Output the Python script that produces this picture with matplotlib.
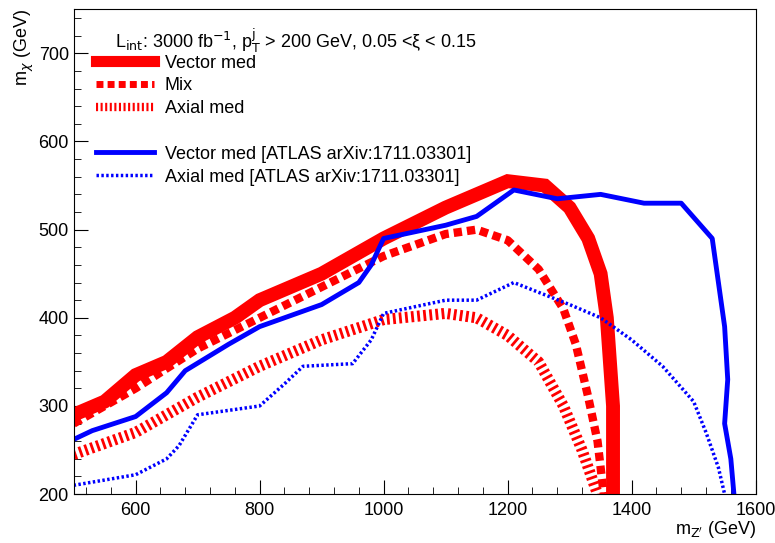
import matplotlib
matplotlib.use("Agg")
import matplotlib.pyplot as plt
from matplotlib.ticker import MultipleLocator

plt.rcParams['font.family'] = ['Liberation Sans', 'DejaVu Sans']

vec_x = [500, 550, 600, 650, 700, 760, 800, 900, 1000, 1100, 1200, 1260, 1300, 1330, 1350, 1360, 1365, 1370, 1370, 1370]
vec_y = [290, 305, 335, 350, 378, 400, 420, 450, 490, 525, 555, 550, 525, 490, 450, 400, 350, 300, 250, 200]
mix_x = [500, 600, 700, 800, 900, 1000, 1100, 1150, 1200, 1250, 1290, 1310, 1330, 1345, 1355]
mix_y = [280, 320, 365, 400, 435, 470, 495, 500, 488, 455, 410, 370, 310, 260, 200]
ax_x = [500, 600, 700, 800, 900, 1000, 1100, 1150, 1200, 1250, 1290, 1320, 1345]
ax_y = [245, 270, 310, 345, 375, 398, 405, 400, 380, 350, 300, 250, 200]
atl_vec_x = [500, 530, 600, 650, 680, 750, 800, 900, 960, 980, 1000, 1100, 1150, 1210, 1280, 1350, 1420, 1480, 1530, 1540, 1550, 1555, 1550, 1560, 1565]
atl_vec_y = [262, 272, 288, 315, 340, 370, 390, 415, 440, 460, 490, 505, 515, 545, 535, 540, 530, 530, 490, 440, 390, 330, 280, 240, 200]
atl_ax_x = [500, 600, 650, 670, 700, 800, 840, 870, 950, 980, 1000, 1100, 1150, 1210, 1300, 1350, 1400, 1450, 1500, 1520, 1540, 1550]
atl_ax_y = [210, 222, 240, 255, 290, 300, 325, 345, 348, 375, 405, 420, 420, 440, 415, 400, 375, 345, 305, 270, 230, 200]

fig = plt.figure(figsize=(7.75, 5.43), dpi=100)
ax = fig.add_axes([0.095, 0.09, 0.88, 0.893])

ax.plot(vec_x, vec_y, color='red', lw=10, solid_joinstyle='miter', label='Vector med')
ax.plot(mix_x, mix_y, color='red', lw=6, dashes=(1.0, 0.6), label='Mix')
ax.plot(ax_x, ax_y, color='red', lw=8, dashes=(0.25, 0.3), label='Axial med')
ax.plot([], [], color='none', label=' ')
ax.plot(atl_vec_x, atl_vec_y, color='blue', lw=3.5, label='Vector med [ATLAS arXiv:1711.03301]')
ax.plot(atl_ax_x, atl_ax_y, color='blue', lw=2.5, dashes=(0.7, 0.7), label='Axial med [ATLAS arXiv:1711.03301]')

ax.set_xlim(500, 1600)
ax.set_ylim(200, 750)
ax.xaxis.set_major_locator(MultipleLocator(200))
ax.xaxis.set_minor_locator(MultipleLocator(40))
ax.yaxis.set_major_locator(MultipleLocator(100))
ax.yaxis.set_minor_locator(MultipleLocator(20))
ax.tick_params(which='both', direction='in', labelsize=13)
ax.tick_params(which='major', length=10)
ax.tick_params(which='minor', length=5)
ax.tick_params(axis='x', pad=6)

ax.set_xlabel(r"m$_{\mathrm{Z'}}$ (GeV)", fontsize=13, loc='right', labelpad=0)
ax.set_ylabel(r"m$_{\chi}$ (GeV)", fontsize=13, loc='top', labelpad=2)

ax.text(0.06, 0.965, r"L$_{\mathrm{int}}$: 3000 fb$^{-1}$, p$_{\mathrm{T}}^{\mathrm{j}}$ > 200 GeV, 0.05 <ξ < 0.15",
        transform=ax.transAxes, fontsize=13, va='top')
leg = ax.legend(loc='upper left', bbox_to_anchor=(0.02, 0.925), frameon=False, fontsize=13,
                handlelength=3.2, labelspacing=0.32, borderpad=0, handletextpad=0.6)
for h, w in zip(leg.get_lines(), [8, 5, 6, 0, 3.5, 2.5]):
    h.set_linewidth(w)

fig.savefig("out.png", dpi=100)
